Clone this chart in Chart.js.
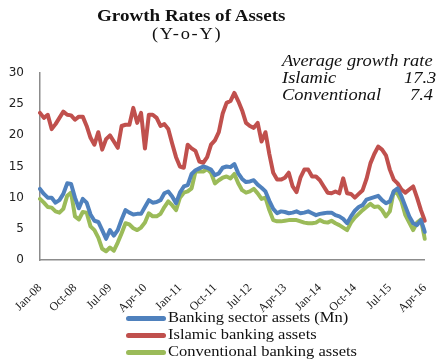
<!DOCTYPE html>
<html>
<head>
<meta charset="utf-8">
<script src="https://cdn.jsdelivr.net/npm/chart.js@4"></script>
<style>
  body { margin: 0; background: #fff; }
  #wrap { position: relative; width: 448px; height: 360px; overflow: hidden; }
  #grafico { position: absolute; left: 0; top: 0; }
  .txt { position: absolute; font-family: 'Liberation Serif', serif; color: #111; white-space: nowrap; transform-origin: left top; }
  .titulo { left: 97px; top: 6px; font-size: 17px; font-weight: bold; transform: scaleX(1.12); }
  .subtitulo { left: 152px; top: 25px; font-size: 16px; letter-spacing: 1.5px; transform: scaleX(1.15); }
  .nota { font-style: italic; font-size: 16px; transform: scaleX(1.15); }
  .leyenda { left: 126px; font-size: 14px; }
  .leyenda span { display: inline-block; width: 40px; height: 5px; border-radius: 3px; vertical-align: middle; margin-right: 2px; }
  .leyenda i { font-style: normal; display: inline-block; transform: scaleX(1.18); transform-origin: left center; }
</style>
</head>
<body>
<div id="wrap">
  <canvas id="grafico" width="448" height="360"></canvas>
  <div class="txt titulo">Growth Rates of Assets</div>
  <div class="txt subtitulo">(Y-o-Y)</div>
  <div class="txt nota" style="left:282px; top:52px;">Average growth rate</div>
  <div class="txt nota" style="left:282px; top:69px;">Islamic</div>
  <div class="txt nota" style="left:404px; top:69px;">17.3</div>
  <div class="txt nota" style="left:282px; top:86px;">Conventional</div>
  <div class="txt nota" style="left:410px; top:86px;">7.4</div>
  <div class="txt leyenda" style="top:310px;"><span style="background:#4f81bd"></span><i>Banking sector assets (Mn)</i></div>
  <div class="txt leyenda" style="top:327px;"><span style="background:#c0504d"></span><i>Islamic banking assets</i></div>
  <div class="txt leyenda" style="top:344px;"><span style="background:#9bbb59"></span><i>Conventional banking assets</i></div>
</div>
<script>
const meses = ['Jan', 'Feb', 'Mar', 'Apr', 'May', 'Jun', 'Jul', 'Aug', 'Sep', 'Oct', 'Nov', 'Dec'];
const tickLabels = ['Jan-08', 'Oct-08', 'Jul-09', 'Apr-10', 'Jan-11', 'Oct-11', 'Jul-12', 'Apr-13', 'Jan-14', 'Oct-14', 'Jul-15', 'Apr-16'];

// Banking sector assets (Mn), Jan-08 .. Apr-16
const bancario = [
  11.4, 10.6, 10.0, 10.0, 9.2, 9.6, 10.6, 12.3, 12.2, 10.0,
  8.3, 9.8, 9.2, 7.3, 6.3, 6.1, 4.8, 3.4, 4.8, 3.9,
  4.8, 6.5, 8.0, 7.6, 7.3, 7.4, 7.4, 8.5, 9.6, 9.2,
  9.3, 9.6, 10.7, 11.0, 10.2, 9.1, 10.8, 11.8, 12.0, 13.8,
  14.4, 14.7, 15.0, 14.8, 14.5, 13.6, 13.9, 14.8, 15.0, 14.9,
  15.4, 13.9, 13.0, 12.5, 12.6, 12.8, 12.1, 11.6, 11.0, 9.5,
  8.2, 7.5, 7.8, 7.7, 7.5, 7.6, 7.8, 7.5, 7.6, 7.8,
  7.5, 7.2, 7.4, 7.5, 7.6, 7.6, 7.2, 7.0, 6.6, 5.9,
  7.0, 7.9, 8.5, 8.8, 9.7, 9.9, 10.1, 10.3, 9.6, 9.1,
  9.4, 11.0, 11.5, 10.2, 8.6, 7.0, 5.9, 5.6, 6.4, 4.5
];

const islamico = [
  23.6, 22.8, 23.3, 21.0, 21.8, 22.8, 23.8, 23.3, 23.2, 22.5,
  23.0, 23.0, 21.5, 19.6, 18.5, 20.5, 17.7, 19.4, 20.0, 19.0,
  18.0, 21.5, 21.7, 21.7, 24.4, 22.0, 23.6, 17.9, 23.3, 23.3,
  22.8, 21.5, 21.8, 21.0, 18.7, 16.5, 15.0, 14.8, 18.5, 17.9,
  17.5, 15.8, 15.6, 16.5, 18.5, 19.2, 20.5, 23.5, 25.2, 25.5,
  26.8, 25.5, 24.0, 22.0, 21.5, 21.2, 22.0, 19.0, 20.5, 17.0,
  14.0, 12.9, 12.9, 13.2, 14.0, 11.8, 10.9, 13.2, 14.5, 14.5,
  13.4, 13.4, 12.8, 11.8, 10.8, 10.7, 11.0, 10.7, 13.1, 10.7,
  10.6, 10.0, 10.6, 11.2, 13.0, 15.5, 17.0, 18.2, 17.7, 16.8,
  14.5, 12.9, 12.3, 11.3, 10.8, 11.3, 11.8, 10.0, 8.0, 6.3
];

const convencional = [
  9.8, 9.2, 8.5, 8.4, 7.8, 7.6, 8.2, 10.3, 10.8, 7.0,
  6.5, 7.7, 7.6, 5.4, 4.8, 3.6, 1.8, 1.4, 2.0, 1.5,
  2.8, 4.3, 5.9, 5.7, 5.1, 4.8, 5.2, 6.0, 7.5, 7.0,
  7.0, 7.4, 8.5, 9.4, 8.8, 8.0, 10.0, 10.8, 11.0, 11.5,
  14.2, 14.2, 14.2, 14.6, 14.0, 12.3, 12.8, 13.2, 13.4, 13.1,
  13.8, 12.3, 11.2, 10.8, 11.0, 11.4, 10.7, 9.8, 10.0, 8.0,
  6.4, 6.2, 6.2, 6.3, 6.4, 6.4, 6.4, 6.2, 6.0, 5.9,
  5.9, 6.0, 6.4, 6.1, 6.0, 6.3, 5.9, 5.6, 5.2, 4.8,
  6.0, 6.8, 7.4, 8.0, 8.5, 9.0, 8.5, 8.6, 8.0, 7.0,
  7.8, 11.0, 10.6, 9.4, 7.2, 6.0, 4.8, 6.0, 6.5, 3.4
];

// Etiquetas mensuales Jan-08 .. Apr-16
const categorias = [];
for (let i = 0; i < bancario.length; i++) {
  const anio = 8 + Math.floor(i / 12);
  categorias.push(meses[i % 12] + '-' + String(anio).padStart(2, '0'));
}

const serie = (label, data, color) => ({
  label, data,
  borderColor: color,
  backgroundColor: color,
  borderWidth: 4,
  pointRadius: 0,
  tension: 0,
  borderCapStyle: 'round',
  borderJoinStyle: 'round',
});

new Chart(document.getElementById('grafico'), {
  type: 'line',
  data: {
    labels: categorias,
    datasets: [
      serie('Banking sector assets (Mn)', bancario, '#4f81bd'),
      serie('Islamic banking assets', islamico, '#c0504d'),
      serie('Conventional banking assets', convencional, '#9bbb59'),
    ],
  },
  options: {
    responsive: false,
    animation: false,
    layout: { padding: { top: 73, right: 3, left: 0, bottom: 0 } },
    plugins: { legend: { display: false }, tooltip: { enabled: false } },
    scales: {
      x: {
        grid: { display: false },
        border: { display: true, color: '#8c8c8c', width: 1.5 },
        afterFit: (scale) => { scale.height = 100; },
        ticks: {
          autoSkip: false,
          minRotation: 45,
          maxRotation: 45,
          padding: 13,
          color: '#222',
          font: { family: 'Liberation Serif', size: 12 },
          callback: function (value) {
            const etiqueta = this.getLabelForValue(value);
            return tickLabels.includes(etiqueta) ? etiqueta : '';
          },
        },
      },
      y: {
        min: 0,
        max: 30,
        grid: { display: false },
        border: { display: true, color: '#8c8c8c', width: 1.5 },
        afterFit: (scale) => { scale.width = 40; },
        ticks: {
          stepSize: 5,
          padding: 8,
          color: '#222',
          font: { family: 'DejaVu Sans', size: 12 },
        },
      },
    },
  },
});
</script>
</body>
</html>
